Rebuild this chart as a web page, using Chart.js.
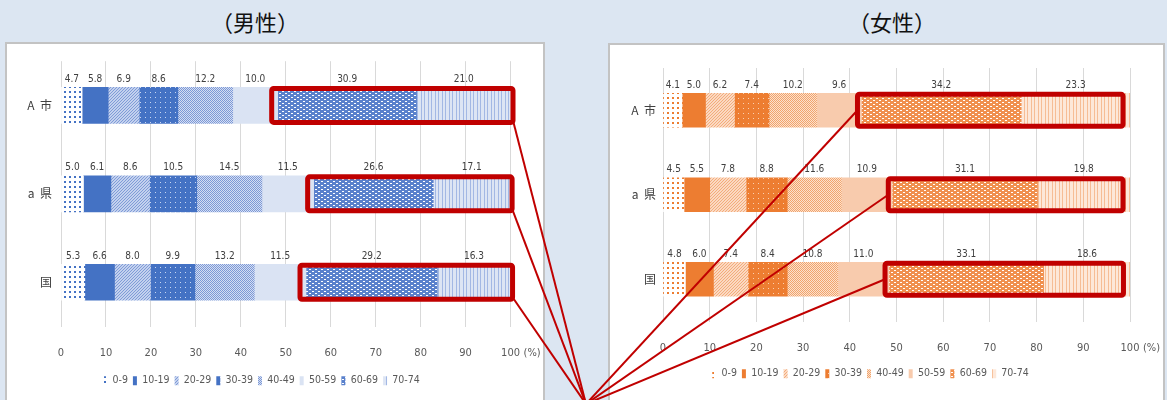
<!DOCTYPE html>
<html>
<head>
<meta charset="utf-8">
<script src="https://cdn.jsdelivr.net/npm/chart.js@4.4.1/dist/chart.umd.min.js"></script>
<style>
body { margin:0; width:1167px; height:400px; background:#dce6f2; position:relative; overflow:hidden; font-family:'Noto Sans CJK JP', sans-serif; }
.title { position:absolute; top:5px; width:200px; text-align:center; font-size:22px; color:#111; }
.panel { position:absolute; background:#fff; border:2px solid #c3c3c3; }
#malePanel { left:5px; top:42px; width:536px; height:380px; }
#femalePanel { left:608px; top:43px; width:553px; height:380px; }
canvas { position:absolute; }
#maleChart { left:8px; top:45px; }
#femaleChart { left:611px; top:46px; }
#overlay { left:0; top:0; pointer-events:none; }
</style>
</head>
<body>
<div class="title" style="left:155px">（男性）</div>
<div class="title" style="left:792px">（女性）</div>
<div class="panel" id="malePanel"></div>
<div class="panel" id="femalePanel"></div>
<canvas id="maleChart" width="532" height="355"></canvas>
<canvas id="femaleChart" width="550" height="354"></canvas>
<canvas id="overlay" width="1167" height="400"></canvas>
<script>
// ===== データ =====
const regions = ['A  市', 'a  県', '国'];
const ageGroups = ['0-9', '10-19', '20-29', '30-39', '40-49', '50-59', '60-69', '70-74'];
const xTicks = [0, 10, 20, 30, 40, 50, 60, 70, 80, 90, 100];

// 男性 (%)
const maleCity   = [4.7, 5.8, 6.9, 8.6, 12.2, 10.0, 30.9, 21.0];
const malePref   = [5.0, 6.1, 8.6, 10.5, 14.5, 11.5, 26.6, 17.1];
const maleNation = [5.3, 6.6, 8.0, 9.9, 13.2, 11.5, 29.2, 16.3];

// 女性 (%)
const femaleCity   = [4.1, 5.0, 6.2, 7.4, 10.2, 9.6, 34.2, 23.3];
const femalePref   = [4.5, 5.5, 7.8, 8.8, 11.6, 10.9, 31.1, 19.8];
const femaleNation = [4.8, 6.0, 7.4, 8.4, 10.8, 11.0, 33.1, 18.6];

const narrow = "'DejaVu Sans Condensed', 'Liberation Sans Narrow', sans-serif";

// ===== 模様 =====
function pat(w, h, bg, draw) {
    const c = document.createElement('canvas');
    c.width = w; c.height = h;
    const g = c.getContext('2d');
    g.fillStyle = bg;
    g.fillRect(0, 0, w, h);
    draw(g);
    return g.createPattern(c, 'repeat');
}

function makeFills(t) {
    return [
        pat(5, 5, '#ffffff', g => { g.fillStyle = t.main; g.fillRect(1, 1, 2, 2); }),
        t.main,
        pat(3, 3, t.tex, g => { g.fillStyle = t.texDot; g.fillRect(0, 0, 1, 1); g.fillRect(2, 1, 1, 1); g.fillRect(1, 2, 1, 1); }),
        pat(5, 5, t.main, g => { g.fillStyle = t.dot; g.fillRect(2, 2, 1, 1); }),
        pat(4, 4, t.diagBg, g => { g.fillStyle = t.diag; for (let i = 0; i < 4; i++) { g.fillRect(i, 3 - i, 1, 1); g.fillRect((i + 2) % 4, 3 - i, 1, 1); } }),
        t.pale,
        pat(6, 4, t.weave, g => { g.fillStyle = '#ffffff'; g.fillRect(1, 0, 2, 1); g.fillRect(4, 2, 2, 1); }),
        pat(7, 1, t.vBg, g => { g.fillStyle = t.vLine; g.fillRect(0, 0, 1, 1); g.fillRect(3, 0, 1, 1); })
    ];
}

const blue = { main: '#4472c4', tex: '#c3d1ee', texDot: '#7f9bd7', dot: '#c9d7f2', diagBg: '#d4def3', diag: '#7d99d6', pale: '#dae3f3', weave: '#5a81cc', vBg: '#dde5f4', vLine: '#a3b8e4' };
const orange = { main: '#ed7d31', tex: '#fbd9c2', texDot: '#f3ac7b', dot: '#f9cfb1', diagBg: '#fce1cd', diag: '#f1a46d', pale: '#f8cbad', weave: '#f0904f', vBg: '#fde8d9', vLine: '#f6bd95' };

// 数値ラベル
const valueLabels = {
    id: 'valueLabels',
    afterDatasetsDraw(chart) {
        const ctx = chart.ctx;
        ctx.save();
        ctx.font = '10px ' + narrow;
        ctx.fillStyle = '#404040';
        ctx.textAlign = 'center';
        ctx.textBaseline = 'bottom';
        chart.data.datasets.forEach((ds, di) => {
            chart.getDatasetMeta(di).data.forEach((el, i) => {
                const p = el.getProps(['x', 'y', 'base', 'height'], true);
                ctx.fillText(ds.data[i].toFixed(1), (p.x + p.base) / 2, p.y - p.height / 2 - 3);
            });
        });
        // (%) の表示
        const xs = chart.scales.x;
        ctx.font = '11px ' + narrow;
        ctx.fillStyle = '#595959';
        ctx.textAlign = 'left';
        ctx.textBaseline = 'middle';
        ctx.fillText('(%)', xs.getPixelForValue(100) + 13, xs.top + 27);
        ctx.restore();
    }
};

function makeChart(id, rows, theme, pad, yWidth, yPad, xHeight, barThick) {
    const fills = makeFills(theme);
    const datasets = ageGroups.map((name, k) => ({
        label: name,
        data: rows.map(r => r[k]),
        backgroundColor: fills[k],
        borderWidth: 0,
        barThickness: barThick
    }));
    return new Chart(document.getElementById(id), {
        type: 'bar',
        data: { labels: regions, datasets },
        options: {
            indexAxis: 'y',
            responsive: false,
            animation: false,
            devicePixelRatio: 1,
            layout: { padding: pad },
            scales: {
                x: {
                    stacked: true, min: 0, max: 100,
                    ticks: { stepSize: 10, padding: 20, color: '#595959', font: { family: narrow, size: 11 } },
                    grid: { color: '#d9d9d9', drawTicks: false },
                    border: { display: false },
                    afterFit: s => { s.height = xHeight; }
                },
                y: {
                    stacked: true,
                    ticks: { padding: yPad, color: '#404040', font: { family: "'Noto Sans CJK JP'", size: 12 } },
                    grid: { display: false, drawTicks: false },
                    border: { display: false },
                    afterFit: s => { s.width = yWidth; }
                }
            },
            plugins: {
                legend: {
                    position: 'bottom',
                    labels: { boxWidth: 4, boxHeight: 9, padding: 5, color: '#595959', font: { family: narrow, size: 10.5 } }
                },
                tooltip: { enabled: false }
            }
        },
        plugins: [valueLabels]
    });
}

const maleChart = makeChart('maleChart', [maleCity, malePref, maleNation], blue,
    { left: 0, right: 25, top: 14, bottom: 4 }, 53, 9, 44, 36);
const femaleChart = makeChart('femaleChart', [femaleCity, femalePref, femaleNation], orange,
    { left: 0, right: 31, top: 22, bottom: 11 }, 52, 7, 42, 34);

// ===== 赤枠と線 =====
function boxes(chart, canvasId, padL, padR) {
    const r = document.getElementById(canvasId).getBoundingClientRect();
    const a = chart.getDatasetMeta(6).data;
    const b = chart.getDatasetMeta(7).data;
    return a.map((el, i) => {
        const p = el.getProps(['x', 'y', 'base', 'height'], true);
        const q = b[i].getProps(['x'], true);
        return {
            left: r.left + p.base - padL,
            right: r.left + q.x + padR,
            top: r.top + p.y - p.height / 2 + 1,
            bottom: r.top + p.y + p.height / 2 - 1
        };
    });
}

const ov = document.getElementById('overlay').getContext('2d');
const focus = { x: 586, y: 404 };
const maleBoxes = boxes(maleChart, 'maleChart', 6, 2);
const femaleBoxes = boxes(femaleChart, 'femaleChart', 4, -7);

ov.strokeStyle = '#c00000';
ov.lineWidth = 2;
maleBoxes.forEach(bx => {
    ov.beginPath(); ov.moveTo(bx.right, bx.bottom - 2); ov.lineTo(focus.x, focus.y); ov.stroke();
});
femaleBoxes.forEach(bx => {
    ov.beginPath(); ov.moveTo(bx.left, (bx.top + bx.bottom) / 2); ov.lineTo(focus.x, focus.y); ov.stroke();
});
ov.lineWidth = 5;
maleBoxes.concat(femaleBoxes).forEach(bx => {
    ov.beginPath();
    ov.roundRect(bx.left, bx.top, bx.right - bx.left, bx.bottom - bx.top, 2);
    ov.stroke();
});
</script>
</body>
</html>
